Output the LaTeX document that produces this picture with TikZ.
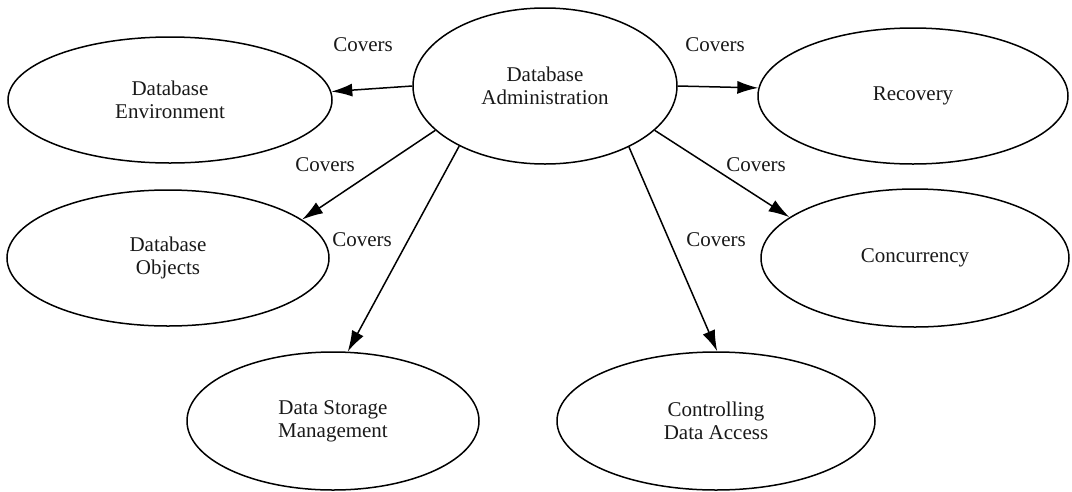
\documentclass[tikz,border=0pt]{standalone}
\usepackage{fontspec}
\setmainfont{Liberation Serif}
\usetikzlibrary{shapes.geometric,arrows.meta}
\begin{document}
\begin{tikzpicture}[x=1pt,y=-1pt,
  topic/.style={draw,ellipse,line width=1.5pt,inner sep=0pt,align=center,
    font=\fontsize{21}{23}\selectfont,text=black!90},
  cov/.style={line width=1.5pt,-{Latex[length=21pt,width=13pt]}},
  lbl/.style={font=\fontsize{21}{23}\selectfont,text=black!90,inner sep=0pt}]
\useasboundingbox (0,0) rectangle (1072,491);
\node[topic,minimum width=264pt,minimum height=156pt] (adm) at (545,86) {Database\\Administration};
\node[topic,minimum width=324pt,minimum height=126pt] (env) at (170,100) {Database\\Environment};
\node[topic,minimum width=322pt,minimum height=136pt] (obj) at (168,258) {Database\\Objects};
\node[topic,minimum width=292pt,minimum height=138pt] (sto) at (333,421) {Data Storage\\Management};
\node[topic,minimum width=318pt,minimum height=138pt] (ctl) at (716,421) {Controlling\\Data Access};
\node[topic,minimum width=310pt,minimum height=136pt] (rec) at (913,96) {Recovery};
\node[topic,minimum width=308pt,minimum height=138pt] (con) at (915,258) {Concurrency};
\draw[cov] (adm.west) -- (env.3);
\draw[cov] (adm.east) -- (rec.177);
\draw[cov] (adm.202) -- (obj.16);
\draw[cov] (adm.215) -- (sto.78);
\draw[cov] (adm.324) -- (ctl.89);
\draw[cov] (adm.338) -- (con.162);
\node[lbl] (l1) at (363,45) {Covers};
\node[lbl] (l2) at (715,45) {Covers};
\node[lbl] (l3) at (325,165) {Covers};
\node[lbl] (l4) at (756,165) {Covers};
\node[lbl] (l5) at (362,240) {Covers};
\node[lbl] (l6) at (716,240) {Covers};
\end{tikzpicture}
\end{document}
